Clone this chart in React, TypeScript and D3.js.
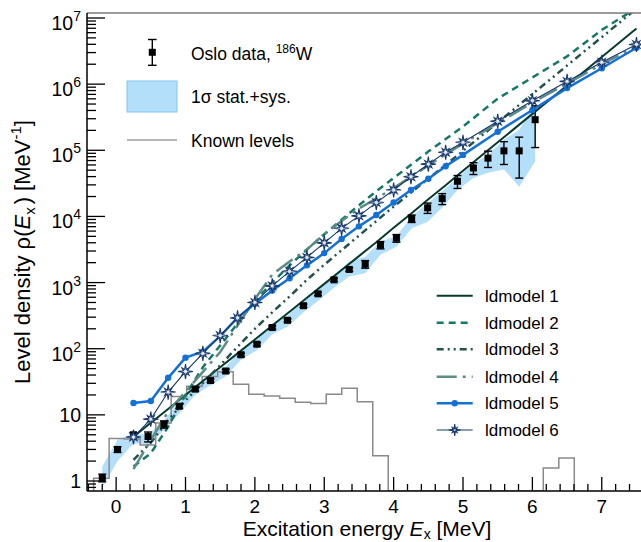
import React from 'react';
import * as d3 from 'd3';

const W = 641;
const H = 542;
const PL = 87, PR = 642, PT = 13, PB = 491;

// ---------- data ----------
const dataE = [-0.20, 0.02, 0.25, 0.46, 0.69, 0.91, 1.14, 1.36, 1.58, 1.80, 2.03, 2.25, 2.47, 2.70, 2.91, 3.14, 3.36, 3.59, 3.81, 4.04, 4.26, 4.49, 4.70, 4.92, 5.15, 5.36, 5.59, 5.81, 6.04];
const dataRho = [1.12, 3.0, 5.0, 4.7, 7.2, 13.5, 24.5, 33, 46, 81, 117, 209, 269, 447, 676, 1100, 1580, 1900, 3700, 4700, 9300, 13500, 18600, 34000, 54000, 76000, 98000, 98000, 290000];
const dataErr = [0.15, 0.3, 0.4, 0.8, 0.9, 1.0, 1.5, 2, 3, 5, 7, 12, 15, 25, 40, 60, 100, 250, 470, 620, 1200, 2400, 3500, 7500, 11000, 21000, 37000, 60000, 180000];
const bandLow = [0.79, 2.0, 3.7, 3.6, 5.9, 10.5, 20, 28, 38, 68, 95, 166, 214, 355, 525, 832, 1230, 1380, 2630, 3470, 6610, 8320, 13500, 25100, 38000, 45700, 51300, 28200, 67600];
const bandHigh = [1.66, 4.2, 5.2, 5.0, 8.3, 15.8, 28, 40, 54, 95, 138, 240, 316, 525, 794, 1260, 2090, 2450, 4170, 5010, 10000, 15800, 24000, 38000, 63100, 85100, 145000, 204000, 490000];

const levelEdges = [-0.324, -0.101, 0.123, 0.346, 0.570, 0.793, 1.017, 1.240, 1.464, 1.687, 1.911, 2.134, 2.358, 2.581, 2.805, 3.028, 3.252, 3.475, 3.699, 3.922, 4.146, 4.369, 4.593, 4.816, 5.040, 5.263, 5.487, 5.710, 5.934, 6.157, 6.381, 6.604];
const levelRho = [1.1, 4.4, 4.3, 3.5, 7.5, 19, 27, 38, 45, 29, 20.5, 19.3, 17.8, 15.5, 14.8, 20.5, 25.3, 15.8, 2.4, 0, 0, 0, 0, 0, 0, 0, 0, 0, 0, 1.57, 2.23];

const modelE = [0.25, 0.5, 0.75, 1.0, 1.25, 1.5, 1.75, 2.0, 2.25, 2.5, 2.75, 3.0, 3.25, 3.5, 3.75, 4.0, 4.25, 4.5, 4.75, 5.0, 5.5, 6.0, 6.5, 7.0, 7.5];
const model1 = [4.68, 7.59, 12.3, 20.0, 32.4, 52.5, 85.1, 138, 224, 363, 589, 955, 1550, 2510, 4070, 6760, 11000, 18200, 29500, 49000, 132000, 355000, 955000, 2570000, 6920000];
const model2 = [1.66, 2.63, 6.61, 20.0, 52.5, 112, 240, 525, 1000, 1820, 3160, 5370, 8910, 14800, 24000, 38000, 60300, 95500, 148000, 229000, 603000, 1260000, 2630000, 6610000, 14100000];
const model3 = [2.09, 3.80, 8.32, 16.6, 30.2, 56.2, 107, 200, 355, 617, 1100, 1860, 3090, 5130, 8510, 14100, 22900, 37200, 60300, 97700, 263000, 708000, 1910000, 5130000, 13800000];
const model4 = [1.51, 4.17, 11.2, 22.4, 44.7, 89.1, 224, 562, 1320, 2090, 3160, 5370, 8510, 13200, 18600, 26900, 39800, 58900, 87100, 126000, 257000, 525000, 1020000, 2000000, 3720000];
const model5 = [15.1, 16.2, 36.3, 73.3, 90.4, 155, 295, 479, 759, 1160, 1820, 2790, 4570, 7080, 10500, 16200, 25100, 37200, 57500, 85100, 191000, 407000, 871000, 1740000, 3550000];
const model6 = [4.62, 8.61, 22.1, 45.2, 85.1, 158, 292, 501, 891, 1480, 2400, 3980, 6610, 10200, 16200, 25100, 39800, 61700, 93300, 132000, 275000, 562000, 1100000, 2140000, 3980000];

const modelNames = ['ldmodel 1', 'ldmodel 2', 'ldmodel 3', 'ldmodel 4', 'ldmodel 5', 'ldmodel 6'];
const xTickValues = [0, 1, 2, 3, 4, 5, 6, 7];
const xTickLabels = ['0', '1', '2', '3', '4', '5', '6', '7'];
const yTickValues = [1, 10, 1e2, 1e3, 1e4, 1e5, 1e6, 1e7];
const yTickExp = ['', '', '2', '3', '4', '5', '6', '7'];
const yTickBase = ['1', '10', '10', '10', '10', '10', '10', '10'];

// ---------- styles ----------
const FONT = "'Liberation Sans', Arial, Helvetica, sans-serif";
const modelStyles = [
  { color: '#083a30', width: 2, dash: null },
  { color: '#17786a', width: 2.5, dash: '7,5' },
  { color: '#24524c', width: 2.5, dash: '7,4,2,4,2,4' },
  { color: '#5d8b85', width: 2.5, dash: '20,6,3,6' },
  { color: '#1370d6', width: 2.5, dash: null },
  { color: '#17386b', width: 1.1, dash: null },
];

function starPath(cx: number, cy: number, rBig: number, rSmall: number, rIn: number) {
  const pts: string[] = [];
  for (let i = 0; i < 16; i++) {
    const a = (i * Math.PI) / 8 - Math.PI / 2;
    const r = i % 2 === 1 ? rIn : (i % 4 === 0 ? rBig : rSmall);
    pts.push(`${(cx + r * Math.cos(a)).toFixed(2)},${(cy + r * Math.sin(a)).toFixed(2)}`);
  }
  return 'M' + pts.join('L') + 'Z';
}

export default function App() {
  const x = d3.scaleLinear().domain([-0.42, 7.58]).range([PL, PR]);
  const y = d3.scaleLog().domain([0.706, 1.19e7]).range([PB, PT]);
  const models = [model1, model2, model3, model4, model5, model6];

  const band = d3.area<number>()
    .x((_, i) => x(dataE[i]))
    .y0((_, i) => y(bandLow[i]))
    .y1((_, i) => y(bandHigh[i]))(dataE as any);

  const yv = (v: number) => (v > 0 ? y(v) : PB);
  const histPts: [number, number][] = [[x(levelEdges[0]), PB]];
  levelRho.forEach((v, i) => histPts.push([x(levelEdges[i]), yv(v)]));
  histPts.push([x(levelEdges[levelEdges.length - 1]), PB]);
  const histPath = d3.line().curve(d3.curveStepAfter)(histPts as any);

  const lineGen = (vals: number[]) =>
    d3.line<number>().x((_, i) => x(modelE[i])).y((v) => y(v))(vals);

  // minor ticks
  const xMinor: number[] = d3.range(-0.4, 7.5, 0.2).map((v) => Math.round(v * 10) / 10).filter((v) => Math.abs(v - Math.round(v)) > 1e-6);
  const yMinor: number[] = [];
  for (let k = -1; k < 7; k++) for (let m = 2; m <= 9; m++) {
    const v = m * Math.pow(10, k);
    if (v > 0.706 && v < 1.19e7) yMinor.push(v);
  }

  const legendRows = [295.7, 322.7, 349.3, 376.7, 403.3, 430];

  return (
    <svg width={W} height={H} style={{ position: 'absolute', left: 0, top: 0, background: '#fff' }} fontFamily={FONT}>
      <defs>
        <clipPath id="plotclip"><rect x={PL} y={PT} width={PR - PL} height={PB - PT} /></clipPath>
      </defs>
      <g clipPath="url(#plotclip)">
        <path d={band || ''} fill="#b3dffb" stroke="none" />
        <path d={histPath || ''} fill="none" stroke="#8a8a8a" strokeWidth={1.5} />
        {[0, 1, 2, 3].map((mi) => (
          <path key={mi} d={lineGen(models[mi]) || ''} fill="none" stroke={modelStyles[mi].color}
            strokeWidth={modelStyles[mi].width} strokeDasharray={modelStyles[mi].dash || undefined} />
        ))}
        {dataE.map((e, i) => {
          const cx = x(e);
          const lo = Math.max(dataRho[i] - dataErr[i], 0.5);
          const hi = dataRho[i] + dataErr[i];
          return (
            <g key={i}>
              <line x1={cx} x2={cx} y1={y(lo)} y2={y(hi)} stroke="#000" strokeWidth={1.4} />
              <line x1={cx - 4} x2={cx + 4} y1={y(lo)} y2={y(lo)} stroke="#000" strokeWidth={1.4} />
              <line x1={cx - 4} x2={cx + 4} y1={y(hi)} y2={y(hi)} stroke="#000" strokeWidth={1.4} />
              <rect x={cx - 3.5} y={y(dataRho[i]) - 3.5} width={7} height={7} fill="#000" />
            </g>
          );
        })}
        <path d={lineGen(model5) || ''} fill="none" stroke={modelStyles[4].color} strokeWidth={2.5} />
        {model5.map((v, i) => (
          <circle key={i} cx={x(modelE[i])} cy={y(v)} r={3.2} fill={modelStyles[4].color} />
        ))}
        <path d={lineGen(model6) || ''} fill="none" stroke={modelStyles[5].color} strokeWidth={1.1} />
        {model6.map((v, i) => (
          <path key={i} d={starPath(x(modelE[i]), y(v), 7.5, 5, 2.2)} fill="#e6edf7" stroke={modelStyles[5].color} strokeWidth={1.1} />
        ))}
      </g>

      {/* frame */}
      <line x1={PL} x2={PR} y1={PT} y2={PT} stroke="#7a7a7a" strokeWidth={1.5} />
      <line x1={PL} x2={PR} y1={PB} y2={PB} stroke="#000" strokeWidth={1.5} />
      <line x1={PL} x2={PL} y1={PT} y2={PB} stroke="#000" strokeWidth={1.5} />

      {/* x ticks */}
      {xTickValues.map((v, i) => (
        <g key={'xt' + i}>
          <line x1={x(v)} x2={x(v)} y1={PB} y2={PB - 14} stroke="#000" strokeWidth={1.3} />
          <text x={x(v)} y={512.5} fontSize={19} textAnchor="middle" fill="#000">{xTickLabels[i]}</text>
        </g>
      ))}
      {xMinor.map((v, i) => (
        <line key={'xm' + i} x1={x(v)} x2={x(v)} y1={PB} y2={PB - 7} stroke="#000" strokeWidth={1.3} />
      ))}
      {/* y ticks */}
      {yTickValues.map((v, i) => (
        <g key={'yt' + i}>
          <line x1={PL} x2={PL + 18} y1={y(v)} y2={y(v)} stroke="#000" strokeWidth={1.3} />
          {yTickExp[i] === '' ? (
            <text x={81} y={y(v) + 7} fontSize={19.5} textAnchor="end" fill="#000">{yTickBase[i]}</text>
          ) : (
            <text x={81} y={y(v) + 12} fontSize={19.5} textAnchor="end" fill="#000">
              {yTickBase[i]}
              <tspan dy={-9} fontSize={14}>{yTickExp[i]}</tspan>
            </text>
          )}
        </g>
      ))}
      {yMinor.map((v, i) => (
        <line key={'ym' + i} x1={PL} x2={PL + 9} y1={y(v)} y2={y(v)} stroke="#000" strokeWidth={1.3} />
      ))}

      {/* axis titles */}
      <text x={367} y={535.5} fontSize={21} textAnchor="middle" fill="#000">
        Excitation energy <tspan fontStyle="italic">E</tspan>
        <tspan dy={3} fontSize={14}>x</tspan>
        <tspan dy={-3}> [MeV]</tspan>
      </text>
      <text transform="translate(30,252) rotate(-90)" fontSize={22} textAnchor="middle" fill="#000">
        Level density ρ(<tspan fontStyle="italic">E</tspan>
        <tspan dy={5} fontSize={15}>x</tspan>
        <tspan dy={-5} dx={3}>) [MeV</tspan>
        <tspan dy={-9} fontSize={15}>-1</tspan>
        <tspan dy={9}>]</tspan>
      </text>

      {/* top-left legend */}
      <line x1={152.3} x2={152.3} y1={39.5} y2={65.3} stroke="#000" strokeWidth={1.4} />
      <line x1={148} x2={156.6} y1={39.5} y2={39.5} stroke="#000" strokeWidth={1.4} />
      <line x1={148} x2={156.6} y1={65.3} y2={65.3} stroke="#000" strokeWidth={1.4} />
      <rect x={148.8} y={48.8} width={7} height={7} fill="#000" />
      <text x={191} y={60} fontSize={17.5} fill="#000">
        Oslo data, <tspan dy={-7} fontSize={12}>186</tspan><tspan dy={7}>W</tspan>
      </text>
      <rect x={127} y={81} width={50} height={31} fill="#b3dffb" stroke="#80c6f2" strokeWidth={1} />
      <text x={191} y={103} fontSize={17.5} fill="#000">1σ stat.+sys.</text>
      <line x1={127} x2={177} y1={140} y2={140} stroke="#6e6e6e" strokeWidth={1.2} />
      <text x={191} y={147} fontSize={17.5} fill="#000">Known levels</text>

      {/* bottom-right legend */}
      {modelNames.map((n, i) => {
        const ly = legendRows[i];
        const st = modelStyles[i];
        return (
          <g key={'lg' + i}>
            <line x1={436.7} x2={472.7} y1={ly} y2={ly} stroke={st.color} strokeWidth={st.width}
              strokeDasharray={st.dash || undefined} />
            {i === 4 && <circle cx={454.7} cy={ly} r={3.2} fill={st.color} />}
            {i === 5 && <path d={starPath(454.7, ly, 6, 3.5, 1.6)} fill="#e6edf7" stroke={st.color} strokeWidth={1.1} />}
            <text x={485} y={ly + 6} fontSize={17} fill="#000">{n}</text>
          </g>
        );
      })}
    </svg>
  );
}
